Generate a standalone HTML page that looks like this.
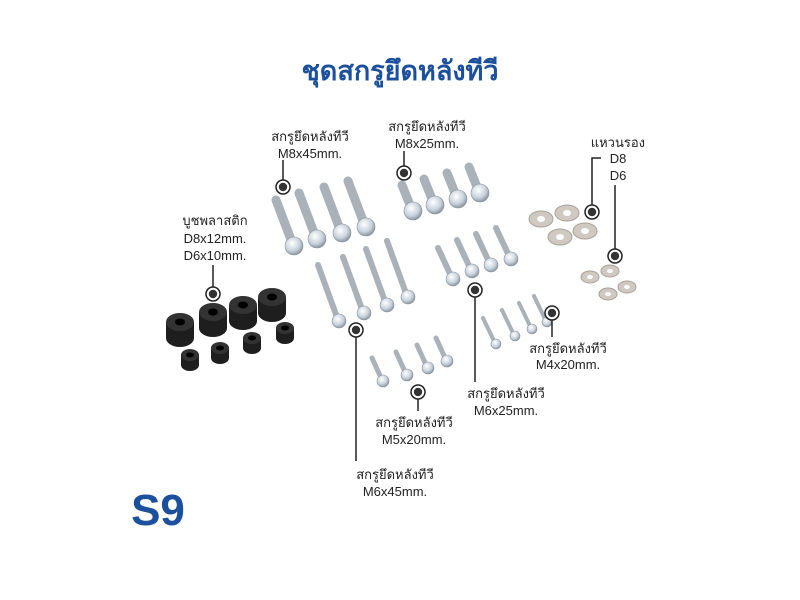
<!DOCTYPE html>
<html><head><meta charset="utf-8"><style>
html,body{margin:0;padding:0;background:#fff;width:800px;height:600px;overflow:hidden}
svg{display:block}
text{font-family:"Liberation Sans","DejaVu Sans",sans-serif;fill:#222;font-size:13px}
</style></head><body>
<svg width="800" height="600" viewBox="0 0 800 600" xmlns="http://www.w3.org/2000/svg">
<defs>
<linearGradient id="sh" x1="0" y1="0" x2="1" y2="0"><stop offset="0" stop-color="#9aa3ab"/><stop offset=".5" stop-color="#e4e8ec"/><stop offset="1" stop-color="#8c959e"/></linearGradient>
<radialGradient id="hd" cx=".4" cy=".35" r=".7"><stop offset="0" stop-color="#ffffff"/><stop offset=".6" stop-color="#c8d2dc"/><stop offset="1" stop-color="#7f8a96"/></radialGradient>
<g id="dot"><circle r="7" fill="#fff" stroke="#222" stroke-width="1.5"/><circle r="4.2" fill="#333"/></g>
</defs>
<text x="400" y="80" text-anchor="middle" style="font-size:27px;font-weight:bold;fill:#1c4f9c">ชุดสกรูยึดหลังทีวี</text>
<text x="158" y="525" text-anchor="middle" style="font-size:44px;font-weight:bold;fill:#1c4f9c">S9</text>

<g stroke="#a9b1b9" stroke-linecap="round">
<!-- M8x45 -->
<line x1="276" y1="200" x2="293" y2="245" stroke-width="9"/><line x1="299" y1="193" x2="316" y2="238" stroke-width="9"/>
<line x1="324" y1="187" x2="341" y2="232" stroke-width="9"/><line x1="348" y1="181" x2="365" y2="226" stroke-width="9"/>
<!-- M8x25 -->
<line x1="402" y1="185" x2="412" y2="210" stroke-width="9"/><line x1="424" y1="179" x2="434" y2="204" stroke-width="9"/>
<line x1="447" y1="173" x2="457" y2="198" stroke-width="9"/><line x1="469" y1="167" x2="479" y2="192" stroke-width="9"/>
<!-- M6x45 -->
<line x1="318" y1="265" x2="338" y2="320" stroke-width="6"/><line x1="343" y1="257" x2="363" y2="312" stroke-width="6"/>
<line x1="366" y1="249" x2="386" y2="304" stroke-width="6"/><line x1="387" y1="241" x2="407" y2="296" stroke-width="6"/>
<!-- M6x25 -->
<line x1="438" y1="248" x2="452" y2="278" stroke-width="6"/><line x1="457" y1="240" x2="471" y2="270" stroke-width="6"/>
<line x1="476" y1="234" x2="490" y2="264" stroke-width="6"/><line x1="496" y1="228" x2="510" y2="258" stroke-width="6"/>
<!-- M5x20 -->
<line x1="372" y1="358" x2="382" y2="380" stroke-width="5"/><line x1="396" y1="352" x2="406" y2="374" stroke-width="5"/>
<line x1="417" y1="345" x2="427" y2="367" stroke-width="5"/><line x1="436" y1="338" x2="446" y2="360" stroke-width="5"/>
<!-- M4x20 -->
<line x1="483" y1="318" x2="495" y2="343" stroke-width="4"/><line x1="502" y1="310" x2="514" y2="335" stroke-width="4"/>
<line x1="519" y1="303" x2="531" y2="328" stroke-width="4"/><line x1="534" y1="296" x2="546" y2="321" stroke-width="4"/>
</g>
<g fill="url(#hd)" stroke="#8a939c" stroke-width=".6">
<circle cx="294" cy="246" r="9"/><circle cx="317" cy="239" r="9"/><circle cx="342" cy="233" r="9"/><circle cx="366" cy="227" r="9"/>
<circle cx="413" cy="211" r="9"/><circle cx="435" cy="205" r="9"/><circle cx="458" cy="199" r="9"/><circle cx="480" cy="193" r="9"/>
<circle cx="339" cy="321" r="7"/><circle cx="364" cy="313" r="7"/><circle cx="387" cy="305" r="7"/><circle cx="408" cy="297" r="7"/>
<circle cx="453" cy="279" r="7"/><circle cx="472" cy="271" r="7"/><circle cx="491" cy="265" r="7"/><circle cx="511" cy="259" r="7"/>
<circle cx="383" cy="381" r="6"/><circle cx="407" cy="375" r="6"/><circle cx="428" cy="368" r="6"/><circle cx="447" cy="361" r="6"/>
<circle cx="496" cy="344" r="5"/><circle cx="515" cy="336" r="5"/><circle cx="532" cy="329" r="5"/><circle cx="547" cy="322" r="5"/>
</g>
<!-- washers -->
<g fill="#cfc9c2" stroke="#a8a199" stroke-width="1">
<ellipse cx="541" cy="219" rx="12" ry="8"/><ellipse cx="567" cy="213" rx="12" ry="8"/><ellipse cx="560" cy="237" rx="12" ry="8"/><ellipse cx="585" cy="231" rx="12" ry="8"/>
<ellipse cx="590" cy="277" rx="9" ry="6"/><ellipse cx="610" cy="271" rx="9" ry="6"/><ellipse cx="627" cy="287" rx="9" ry="6"/><ellipse cx="608" cy="294" rx="9" ry="6"/>
</g>
<g fill="#fff">
<ellipse cx="541" cy="219" rx="4" ry="3"/><ellipse cx="567" cy="213" rx="4" ry="3"/><ellipse cx="560" cy="237" rx="4" ry="3"/><ellipse cx="585" cy="231" rx="4" ry="3"/>
<ellipse cx="590" cy="277" rx="3" ry="2"/><ellipse cx="610" cy="271" rx="3" ry="2"/><ellipse cx="627" cy="287" rx="3" ry="2"/><ellipse cx="608" cy="294" rx="3" ry="2"/>
</g>
<!-- bushings -->
<g fill="#1e1e1e">
<rect x="166" y="322" width="28" height="16"/><ellipse cx="180" cy="338" rx="14" ry="9"/><ellipse cx="180" cy="322" rx="14" ry="9" fill="#333"/>
<rect x="199" y="312" width="28" height="16"/><ellipse cx="213" cy="328" rx="14" ry="9"/><ellipse cx="213" cy="312" rx="14" ry="9" fill="#333"/>
<rect x="229" y="305" width="28" height="16"/><ellipse cx="243" cy="321" rx="14" ry="9"/><ellipse cx="243" cy="305" rx="14" ry="9" fill="#333"/>
<rect x="258" y="297" width="28" height="16"/><ellipse cx="272" cy="313" rx="14" ry="9"/><ellipse cx="272" cy="297" rx="14" ry="9" fill="#333"/>
<rect x="181" y="355" width="18" height="10"/><ellipse cx="190" cy="365" rx="9" ry="6"/><ellipse cx="190" cy="355" rx="9" ry="6" fill="#333"/>
<rect x="211" y="348" width="18" height="10"/><ellipse cx="220" cy="358" rx="9" ry="6"/><ellipse cx="220" cy="348" rx="9" ry="6" fill="#333"/>
<rect x="243" y="338" width="18" height="10"/><ellipse cx="252" cy="348" rx="9" ry="6"/><ellipse cx="252" cy="338" rx="9" ry="6" fill="#333"/>
<rect x="276" y="328" width="18" height="10"/><ellipse cx="285" cy="338" rx="9" ry="6"/><ellipse cx="285" cy="328" rx="9" ry="6" fill="#333"/>
</g>
<g fill="#000">
<ellipse cx="180" cy="322" rx="5" ry="3.5"/><ellipse cx="213" cy="312" rx="5" ry="3.5"/><ellipse cx="243" cy="305" rx="5" ry="3.5"/><ellipse cx="272" cy="297" rx="5" ry="3.5"/>
<ellipse cx="190" cy="355" rx="4" ry="2.5"/><ellipse cx="220" cy="348" rx="4" ry="2.5"/><ellipse cx="252" cy="338" rx="4" ry="2.5"/><ellipse cx="285" cy="328" rx="4" ry="2.5"/>
</g>

<!-- leaders -->
<g stroke="#222" stroke-width="1.5" fill="none">
<line x1="283" y1="160" x2="283" y2="187"/>
<line x1="404" y1="151" x2="404" y2="173"/>
<polyline points="601,158 592,158 592,212"/>
<line x1="615" y1="185" x2="615" y2="256"/>
<line x1="213" y1="265" x2="213" y2="294"/>
<line x1="356" y1="330" x2="356" y2="461"/>
<line x1="418" y1="392" x2="418" y2="411"/>
<line x1="475" y1="290" x2="475" y2="382"/>
<line x1="552" y1="313" x2="552" y2="337"/>
</g>
<use href="#dot" x="283" y="187"/><use href="#dot" x="404" y="173"/><use href="#dot" x="592" y="212"/>
<use href="#dot" x="615" y="256"/><use href="#dot" x="213" y="294"/><use href="#dot" x="356" y="330"/>
<use href="#dot" x="418" y="392"/><use href="#dot" x="475" y="290"/><use href="#dot" x="552" y="313"/>

<g text-anchor="middle">
<text x="310" y="141">สกรูยึดหลังทีวี</text><text x="310" y="158">M8x45mm.</text>
<text x="427" y="131">สกรูยึดหลังทีวี</text><text x="427" y="148">M8x25mm.</text>
<text x="215" y="225">บูชพลาสติก</text><text x="215" y="243">D8x12mm.</text><text x="215" y="260">D6x10mm.</text>
<text x="395" y="479">สกรูยึดหลังทีวี</text><text x="395" y="496">M6x45mm.</text>
<text x="414" y="427">สกรูยึดหลังทีวี</text><text x="414" y="444">M5x20mm.</text>
<text x="506" y="398">สกรูยึดหลังทีวี</text><text x="506" y="415">M6x25mm.</text>
<text x="568" y="353">สกรูยึดหลังทีวี</text><text x="568" y="369">M4x20mm.</text>
</g>
<text x="645" y="147" text-anchor="end">แหวนรอง</text>
<text x="618" y="163" text-anchor="middle">D8</text>
<text x="618" y="180" text-anchor="middle">D6</text>
</svg>
</body></html>
